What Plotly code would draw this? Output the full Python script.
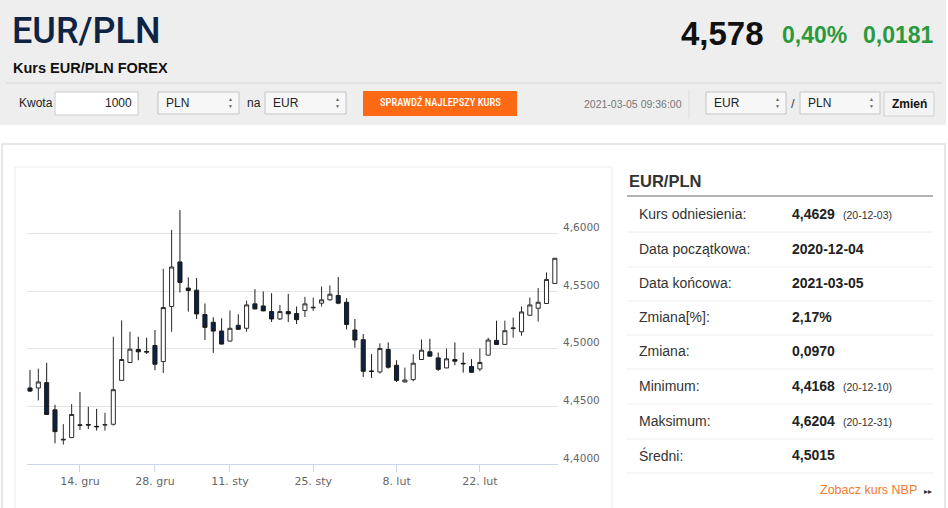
import plotly.graph_objects as go

# --- dane: notowania dzienne EUR/PLN ---
daty = [
    '2020-12-04',
    '2020-12-07', '2020-12-08', '2020-12-09', '2020-12-10', '2020-12-11',
    '2020-12-14', '2020-12-15', '2020-12-16', '2020-12-17', '2020-12-18',
    '2020-12-21', '2020-12-22', '2020-12-23', '2020-12-24',
    '2020-12-28', '2020-12-29', '2020-12-30', '2020-12-31',
    '2021-01-04', '2021-01-05', '2021-01-06', '2021-01-07', '2021-01-08',
    '2021-01-11', '2021-01-12', '2021-01-13', '2021-01-14', '2021-01-15',
    '2021-01-18', '2021-01-19', '2021-01-20', '2021-01-21', '2021-01-22',
    '2021-01-25', '2021-01-26', '2021-01-27', '2021-01-28', '2021-01-29',
    '2021-02-01', '2021-02-02', '2021-02-03', '2021-02-04', '2021-02-05',
    '2021-02-08', '2021-02-09', '2021-02-10', '2021-02-11', '2021-02-12',
    '2021-02-15', '2021-02-16', '2021-02-17', '2021-02-18', '2021-02-19',
    '2021-02-22', '2021-02-23', '2021-02-24', '2021-02-25', '2021-02-26',
    '2021-03-01', '2021-03-02', '2021-03-03', '2021-03-04', '2021-03-05',
]

otwarcie = [
    4.4660,
    4.4660, 4.4706, 4.4470, 4.4208, 4.4229,
    4.4340, 4.4342, 4.4327, 4.4338, 4.4345,
    4.4726, 4.4881, 4.4994, 4.4976,
    4.5029, 4.4889, 4.5367, 4.5754,
    4.5527, 4.5509, 4.5297, 4.5230, 4.5154,
    4.5067, 4.5204, 4.5178, 4.5390, 4.5372,
    4.5323, 4.5259, 4.5323, 4.5306, 4.5332,
    4.5355, 4.5396, 4.5425, 4.5463, 4.5404,
    4.5163, 4.5079, 4.4808, 4.4799, 4.4994,
    4.4857, 4.4712, 4.4732, 4.4907, 4.4974,
    4.4921, 4.4834, 4.4907, 4.4874, 4.4846,
    4.4825, 4.4945, 4.5073, 4.5038, 4.5175,
    4.5148, 4.5291, 4.5352, 4.5393, 4.5567,
]
maks = [
    4.4817,
    4.4828, 4.4878, 4.4514, 4.4346, 4.4520,
    4.4625, 4.4497, 4.4479, 4.4444, 4.5105,
    4.5247, 4.5148, 4.5105, 4.5096,
    4.5163, 4.5695, 4.6033, 4.6204,
    4.5620, 4.5614, 4.5393, 4.5274, 4.5265,
    4.5332, 4.5300, 4.5419, 4.5518, 4.5498,
    4.5483, 4.5381, 4.5477, 4.5367, 4.5451,
    4.5445, 4.5541, 4.5550, 4.5623, 4.5439,
    4.5259, 4.5128, 4.4953, 4.5047, 4.5055,
    4.4901, 4.4837, 4.4953, 4.5081, 4.5087,
    4.4968, 4.5003, 4.5055, 4.4968, 4.4910,
    4.5003, 4.5096, 4.5244, 4.5244, 4.5271,
    4.5367, 4.5445, 4.5527, 4.5663, 4.5786,
]
minimum = [
    4.4625,
    4.4552, 4.4427, 4.4180, 4.4168, 4.4225,
    4.4296, 4.4304, 4.4290, 4.4290, 4.4334,
    4.4724, 4.4878, 4.4901, 4.4956,
    4.4814, 4.4790, 4.5148, 4.5489,
    4.5323, 4.5259, 4.5076, 4.4965, 4.5038,
    4.5064, 4.5167, 4.5148, 4.5344, 4.5327,
    4.5233, 4.5250, 4.5233, 4.5215, 4.5276,
    4.5329, 4.5367, 4.5419, 4.5387, 4.5169,
    4.5009, 4.4756, 4.4747, 4.4785, 4.4828,
    4.4712, 4.4710, 4.4718, 4.4904, 4.4934,
    4.4808, 4.4831, 4.4857, 4.4793, 4.4794,
    4.4805, 4.4942, 4.5035, 4.5035, 4.5096,
    4.5113, 4.5288, 4.5236, 4.5390, 4.5567,
]
zamkniecie = [
    4.4633,
    4.4712, 4.4430, 4.4281, 4.4214, 4.4430,
    4.4335, 4.4338, 4.4323, 4.4342, 4.4645,
    4.4907, 4.4997, 4.4974, 4.4972,
    4.4866, 4.5358, 4.5710, 4.5576,
    4.5506, 4.5303, 4.5186, 4.5154, 4.5041,
    4.5178, 4.5169, 4.5381, 4.5346, 4.5329,
    4.5259, 4.5323, 4.5303, 4.5253, 4.5390,
    4.5360, 4.5425, 4.5474, 4.5396, 4.5212,
    4.5076, 4.4805, 4.4803, 4.5003, 4.4840,
    4.4726, 4.4729, 4.4875, 4.4988, 4.4936,
    4.4822, 4.4913, 4.4892, 4.4870, 4.4796,
    4.4881, 4.5076, 4.5038, 4.5157, 4.5180,
    4.5320, 4.5381, 4.5404, 4.5602, 4.5786,
]

x_ticks = ['2020-12-14', '2020-12-28', '2021-01-11', '2021-01-25', '2021-02-08', '2021-02-22']
x_tick_labels = ['14. gru', '28. gru', '11. sty', '25. sty', '8. lut', '22. lut']
y_ticks = [4.40, 4.45, 4.50, 4.55, 4.60, 4.65]
y_tick_labels = ['4,4000', '4,4500', '4,5000', '4,5500', '4,6000', '']

# --- tabela po prawej ---
tab_etykiety = ['Kurs odniesienia:', 'Data początkowa:', 'Data końcowa:', 'Zmiana[%]:',
                'Zmiana:', 'Minimum:', 'Maksimum:', 'Średni:']
tab_wartosci = ['4,4629', '2020-12-04', '2021-03-05', '2,17%', '0,0970', '4,4168', '4,6204', '4,5015']
tab_daty = ['(20-12-03)', '', '', '', '', '(20-12-10)', '(20-12-31)', '']

W, H = 948, 508
FONT = 'Liberation Sans, Arial, sans-serif'


def X(p):
    return p / W


def Y(p):
    return 1 - p / H


fig = go.Figure()

fig.add_trace(go.Candlestick(
    x=daty, open=otwarcie, high=maks, low=minimum, close=zamkniecie,
    increasing=dict(fillcolor='white', line=dict(color='#2b2b2b', width=1)),
    decreasing=dict(fillcolor='#0d2142', line=dict(color='#1a1a1a', width=1)),
    hoverinfo='skip', showlegend=False,
))

shapes = []
annots = []


def rect(x0, y0, x1, y1, fill, line='rgba(0,0,0,0)', lw=1):
    shapes.append(dict(type='rect', xref='paper', yref='paper', layer='below',
                       x0=X(x0), x1=X(x1), y0=Y(y0), y1=Y(y1),
                       fillcolor=fill, line=dict(color=line, width=lw)))


def hline(x0, x1, y, color, lw=1):
    shapes.append(dict(type='line', xref='paper', yref='paper', layer='below',
                       x0=X(x0), x1=X(x1), y0=Y(y), y1=Y(y),
                       line=dict(color=color, width=lw)))


def txt(x, y, s, size, color='#222', anchor='left', bold=False, family=FONT, weight=None):
    if bold:
        s = '<b>' + s + '</b>'
    f = dict(size=size, color=color, family=family)
    if weight:
        f['weight'] = weight
    annots.append(dict(xref='paper', yref='paper', x=X(x), y=Y(y), text=s,
                       showarrow=False, xanchor=anchor, yanchor='middle', font=f))


def select(x0, x1, label):
    rect(x0, 92, x1, 114, '#f7f7f7', '#c4c4c4')
    txt(x0 + 6, 103, label, 12, '#222')
    txt(x1 - 9, 99.5, '▲', 5, '#666', 'center')
    txt(x1 - 9, 106.5, '▼', 5, '#666', 'center')


# --- naglowek ---
rect(0, 0, 946, 125, '#eeeeee')
hline(6, 942, 83, '#d6d6d6')
txt(10, 31, 'EUR/PLN', 36, '#0f2444', family='Roboto, sans-serif', weight=500)
txt(11, 68, 'Kurs EUR/PLN FOREX', 14.5, '#111', bold=True)
txt(766, 33, '4,578', 33, '#111', 'right', bold=True)
txt(780, 35, '0,40%', 23, '#2a9a3d', bold=True)
txt(861, 35, '0,0181', 23, '#2a9a3d', bold=True)

txt(17, 103, 'Kwota', 12, '#222')
rect(55, 92, 138, 115, 'white', '#cccccc')
txt(134, 103, '1000', 12, '#222', 'right')
select(158, 239, 'PLN')
txt(245, 103, 'na', 12, '#222')
select(265, 346, 'EUR')
rect(363, 91, 517, 116, '#fd6a13')
txt(440, 103, 'SPRAWDŹ NAJLEPSZY KURS', 10.5, 'white', 'center',
    family='Roboto Condensed, Liberation Sans Narrow, Roboto, sans-serif', weight=500)
txt(684, 104, '2021-03-05 09:36:00', 10.5, '#777', 'right')
shapes.append(dict(type='line', xref='paper', yref='paper', layer='below',
                   x0=X(689), x1=X(689), y0=Y(90), y1=Y(119),
                   line=dict(color='#dddddd', width=1)))
select(706, 786, 'EUR')
txt(793, 104, '/', 13, '#444', 'center')
select(800, 880, 'PLN')
rect(884, 92, 934, 116, '#f4f4f4', '#cfcfcf')
txt(909, 104, 'Zmień', 12, '#111', 'center', bold=True)

# --- panel ---
rect(2, 144, 945, 512, 'white', '#e6e6e6', 2)
rect(15, 167, 612, 515, 'white', '#ebebeb')

# --- tabela ---
txt(627, 181, 'EUR/PLN', 16.5, '#333', bold=True)
hline(627, 933, 196, '#9a9a9a', 1.5)
wiersze_y = [214, 249, 283, 317, 351, 386, 421, 455]
for i, (et, wa, da) in enumerate(zip(tab_etykiety, tab_wartosci, tab_daty)):
    yy = wiersze_y[i]
    txt(637, yy, et, 14, '#333')
    txt(790, yy, wa, 14, '#222', bold=True)
    if da:
        txt(841, yy + 1, da, 10.5, '#333')
    hline(627, 933, yy + 18, '#eeeeee')
txt(919, 490, 'Zobacz kurs NBP', 12.5, '#f07a30', 'right')
txt(928, 491, '▸▸', 8, '#333', 'center')

fig.update_layout(
    width=W, height=H,
    margin=dict(l=0, r=0, t=0, b=0),
    paper_bgcolor='white',
    plot_bgcolor='rgba(0,0,0,0)',
    separators=', ',
    showlegend=False,
    shapes=shapes,
    annotations=annots,
    font=dict(family=FONT),
    xaxis=dict(
        type='category',
        automargin=False,
        domain=[X(27), X(558)],
        range=[-0.36, 63.38],
        rangeslider=dict(visible=False),
        showgrid=False,
        showline=True, linecolor='#ccd6eb', linewidth=1,
        ticks='outside', ticklen=7, tickcolor='#ccd6eb',
        tickvals=x_ticks, ticktext=x_tick_labels,
        tickfont=dict(size=11, color='#666', family='DejaVu Sans'),
        zeroline=False,
    ),
    yaxis=dict(
        automargin=False,
        domain=[Y(464), Y(176)],
        range=[4.40, 4.65],
        side='right',
        tickvals=y_ticks, ticktext=y_tick_labels,
        showgrid=True, gridcolor='#e3e3e3', gridwidth=1,
        ticks='', ticklabelstandoff=4, ticklabelshift=-6,
        tickfont=dict(size=10.5, color='#666', family='DejaVu Sans'),
        zeroline=False, showline=False,
    ),
)

# strona bez marginesu, zeby wykres zaczynal sie w (0, 0)
fig.write_html(
    "out.html",
    config={'displayModeBar': False},
    post_script="document.body.style.margin='0';",
)
